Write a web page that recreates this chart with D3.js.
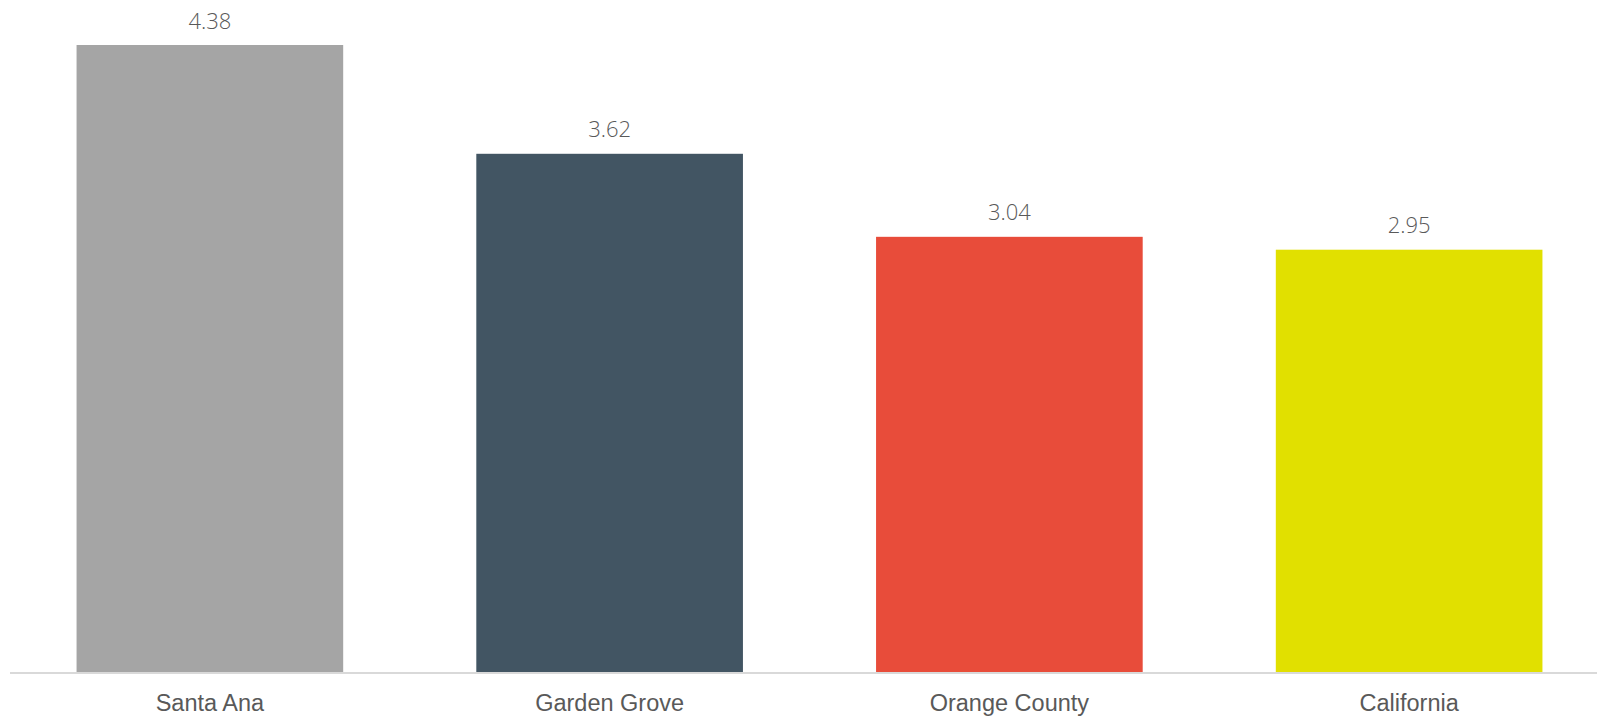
<!DOCTYPE html>
<html>
<head>
<meta charset="utf-8">
<script src="https://cdn.jsdelivr.net/npm/d3@7"></script>
<style>
  body { margin: 0; background: #fff; }
  svg { display: block; }
</style>
</head>
<body>
<div class="chart"></div>
<script>
var categories = ["Santa Ana", "Garden Grove", "Orange County", "California"];
var values = [4.38, 3.62, 3.04, 2.95];
var colors = ["#a5a5a5", "#425563", "#e84c3a", "#e1e000"];

var w = 1597;
var h = 716;
var baseline = 672;

var svg = d3.select(".chart").append("svg")
            .attr("width", w)
            .attr("height", h);

var x = d3.scaleBand()
          .domain(categories)
          .range([10, 1609])
          .paddingInner(0.333)
          .paddingOuter(0.1665);

var y = d3.scaleLinear()
          .domain([0, 4.38])
          .range([baseline, 45]);

svg.selectAll("rect")
  .data(values)
  .enter()
    .append("rect")
    .attr("x", function(d, i) { return x(categories[i]); })
    .attr("y", function(d) { return y(d); })
    .attr("width", x.bandwidth())
    .attr("height", function(d) { return baseline - y(d); })
    .attr("fill", function(d, i) { return colors[i]; });

// baseline
svg.append("line")
  .attr("x1", 10)
  .attr("x2", w)
  .attr("y1", baseline + 1)
  .attr("y2", baseline + 1)
  .attr("stroke", "#d9d9d9")
  .attr("stroke-width", 2);

// value labels
svg.selectAll(".val")
  .data(values)
  .enter()
    .append("text")
    .attr("class", "val")
    .attr("x", function(d, i) { return x(categories[i]) + x.bandwidth() / 2; })
    .attr("y", function(d) { return y(d) - 16.5; })
    .attr("text-anchor", "middle")
    .attr("font-family", "'Open Sans', sans-serif")
    .attr("font-weight", 300)
    .attr("font-size", "22px")
    .attr("fill", "#595959")
    .text(function(d) { return d.toFixed(2); });

// category labels
var xAxis = d3.axisBottom(x).tickSize(0).tickPadding(0);
var g = svg.append("g")
  .attr("transform", "translate(0," + baseline + ")")
  .call(xAxis);
g.select(".domain").remove();
g.selectAll("text")
  .attr("dy", null)
  .attr("y", 39)
  .attr("font-family", "'Liberation Sans', Arial, sans-serif")
  .attr("font-size", "23.5px")
  .attr("fill", "#595959");
</script>
</body>
</html>
